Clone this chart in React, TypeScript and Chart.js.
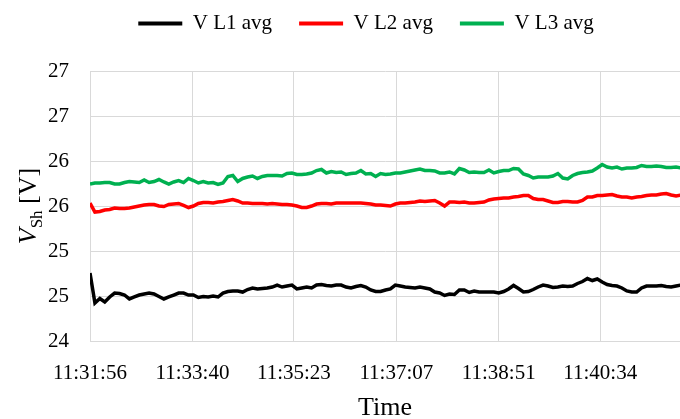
import React, { useEffect, useRef } from 'react';
import { Chart, registerables } from 'chart.js';

Chart.register(...registerables);

const FONT_FAMILY = '"Liberation Serif", "Times New Roman", serif';

const seriesNames = ['V L1 avg', 'V L2 avg', 'V L3 avg'];
const seriesColors = ['#000000', '#ff0000', '#00b050'];

const xTickLabels = ['11:31:56', '11:33:40', '11:35:23', '11:37:07', '11:38:51', '11:40:34'];
const xTitle = 'Time';
const xMaxSeconds = 599;
const sampleStepSeconds = 5;

const yTickLabels = ['24', '25', '25', '26', '26', '27', '27'];
const yMin = 24;
const yMax = 27;
const yStep = 0.5;
const yTitleMain = 'V';
const yTitleSub = 'Sh';
const yTitleUnit = ' [V]';

const vL1 = [
  24.756, 24.422, 24.472, 24.433, 24.489, 24.533, 24.528, 24.511, 24.467, 24.489,
  24.511, 24.522, 24.533, 24.522, 24.494, 24.467, 24.489, 24.511, 24.533, 24.533,
  24.511, 24.511, 24.483, 24.494, 24.489, 24.5, 24.489, 24.533, 24.55, 24.556,
  24.556, 24.544, 24.572, 24.589, 24.578, 24.583, 24.589, 24.6, 24.622, 24.6,
  24.611, 24.622, 24.578, 24.589, 24.6, 24.589, 24.622, 24.628, 24.617, 24.611,
  24.622, 24.622, 24.6, 24.589, 24.606, 24.617, 24.6, 24.567, 24.55, 24.55,
  24.567, 24.578, 24.622, 24.611, 24.6, 24.594, 24.589, 24.6, 24.589, 24.578,
  24.544, 24.533, 24.506, 24.522, 24.517, 24.567, 24.567, 24.539, 24.556, 24.544,
  24.544, 24.544, 24.544, 24.533, 24.55, 24.578, 24.617, 24.583, 24.544, 24.55,
  24.572, 24.6, 24.622, 24.611, 24.594, 24.6, 24.611, 24.606, 24.611, 24.639,
  24.661, 24.694, 24.672, 24.689, 24.656, 24.628, 24.617, 24.611, 24.589, 24.556,
  24.544, 24.544, 24.589, 24.611, 24.611, 24.611, 24.617, 24.606, 24.6, 24.611,
  24.622,
];

const vL2 = [
  25.533, 25.433, 25.439, 25.456, 25.461, 25.478, 25.472, 25.472, 25.478, 25.489,
  25.5, 25.511, 25.517, 25.517, 25.5, 25.494, 25.517, 25.522, 25.528, 25.506,
  25.483, 25.5, 25.528, 25.539, 25.539, 25.533, 25.544, 25.55, 25.561, 25.572,
  25.556, 25.533, 25.533, 25.528, 25.528, 25.528, 25.522, 25.528, 25.522, 25.517,
  25.517, 25.511, 25.5, 25.483, 25.483, 25.5, 25.522, 25.528, 25.528, 25.522,
  25.533, 25.533, 25.533, 25.533, 25.533, 25.533, 25.528, 25.522, 25.511, 25.511,
  25.506, 25.5, 25.522, 25.533, 25.533, 25.539, 25.544, 25.556, 25.55, 25.556,
  25.561, 25.533, 25.5, 25.544, 25.544, 25.539, 25.544, 25.533, 25.533, 25.539,
  25.544, 25.567, 25.578, 25.583, 25.589, 25.589, 25.6, 25.606, 25.617, 25.617,
  25.583, 25.572, 25.572, 25.556, 25.539, 25.539, 25.55, 25.55, 25.544, 25.544,
  25.561, 25.6, 25.6, 25.617, 25.617, 25.622, 25.628, 25.611, 25.6, 25.6,
  25.589, 25.6, 25.606, 25.617, 25.622, 25.622, 25.633, 25.639, 25.622, 25.611,
  25.622,
];

const vL3 = [
  25.744, 25.756, 25.756, 25.761, 25.761, 25.744, 25.744, 25.761, 25.772, 25.767,
  25.761, 25.789, 25.761, 25.772, 25.794, 25.767, 25.744, 25.767, 25.783, 25.761,
  25.806, 25.783, 25.756, 25.772, 25.756, 25.761, 25.739, 25.756, 25.828, 25.839,
  25.772, 25.806, 25.822, 25.833, 25.806, 25.828, 25.839, 25.839, 25.839, 25.833,
  25.861, 25.867, 25.85, 25.85, 25.856, 25.867, 25.894, 25.906, 25.867, 25.883,
  25.872, 25.878, 25.85, 25.861, 25.867, 25.894, 25.856, 25.861, 25.828, 25.861,
  25.85, 25.856, 25.867, 25.867, 25.878, 25.889, 25.9, 25.911, 25.894, 25.894,
  25.889, 25.867, 25.867, 25.878, 25.856, 25.917, 25.9, 25.872, 25.878, 25.872,
  25.872, 25.9, 25.867, 25.883, 25.894, 25.894, 25.917, 25.911, 25.856, 25.839,
  25.811, 25.822, 25.822, 25.822, 25.833, 25.861, 25.811, 25.8, 25.839, 25.861,
  25.872, 25.878, 25.889, 25.922, 25.961, 25.933, 25.922, 25.933, 25.911, 25.922,
  25.922, 25.928, 25.95, 25.939, 25.939, 25.944, 25.939, 25.928, 25.928, 25.933,
  25.922,
];

const seriesValues = [vL1, vL2, vL3];

function toSeconds(label: string): number {
  const [h, m, s] = label.split(':').map(Number);
  return h * 3600 + m * 60 + s;
}
const xTickSeconds = xTickLabels.map((l) => toSeconds(l) - toSeconds(xTickLabels[0]));

const legendPlugin = {
  id: 'legendTweak',
  beforeUpdate(chart: any) {
    const lg = chart.legend;
    if (lg && !lg.__patched) {
      const orig = lg.fit;
      lg.fit = function () {
        orig.call(this);
        this.height = 71;
      };
      lg.__patched = true;
    }
  },
  beforeDraw(chart: any) {
    const lg = chart.legend;
    if (lg) {
      lg.top = -14;
      lg.left = 26;
      lg.right = chart.width + 26;
    }
  },
};

const yTitlePlugin = {
  id: 'yTitleSub',
  afterDraw(chart: any) {
    const { ctx, chartArea } = chart;
    const cy = (chartArea.top + chartArea.bottom) / 2;
    const parts = [
      { t: yTitleMain, f: `italic 26px ${FONT_FAMILY}`, dy: 0 },
      { t: yTitleSub, f: `17px ${FONT_FAMILY}`, dy: 6 },
      { t: yTitleUnit, f: `26px ${FONT_FAMILY}`, dy: 0 },
    ];
    ctx.save();
    ctx.translate(27, cy);
    ctx.rotate(-Math.PI / 2);
    ctx.fillStyle = '#000000';
    ctx.textBaseline = 'alphabetic';
    ctx.textAlign = 'left';
    let total = 0;
    const widths = parts.map((p) => {
      ctx.font = p.f;
      const w = ctx.measureText(p.t).width;
      total += w;
      return w;
    });
    let x = -total / 2;
    parts.forEach((p, i) => {
      ctx.font = p.f;
      ctx.fillText(p.t, x, 9 + p.dy);
      x += widths[i];
    });
    ctx.restore();
  },
};

export default function App() {
  const canvasRef = useRef<HTMLCanvasElement | null>(null);

  useEffect(() => {
    if (!canvasRef.current) return;
    const datasets = seriesNames.map((name, i) => ({
      label: name,
      data: seriesValues[i].map((v, k) => ({ x: k * sampleStepSeconds, y: v })),
      borderColor: seriesColors[i],
      backgroundColor: seriesColors[i],
      borderWidth: 3.5,
      pointRadius: 0,
      tension: 0,
      fill: false,
    }));

    const chart = new Chart(canvasRef.current, {
      type: 'line',
      data: { datasets },
      plugins: [legendPlugin, yTitlePlugin],
      options: {
        animation: false,
        responsive: true,
        maintainAspectRatio: false,
        devicePixelRatio: 1,
        layout: { padding: { left: 0, right: 0, top: 0, bottom: 0 } },
        plugins: {
          tooltip: { enabled: false },
          legend: {
            display: true,
            position: 'top',
            labels: {
              font: { family: FONT_FAMILY, size: 21 },
              color: '#000000',
              boxWidth: 44,
              boxHeight: 4,
              padding: 27,
              generateLabels: (chart: any) =>
                Chart.defaults.plugins.legend.labels.generateLabels(chart).map((l: any) => ({
                  ...l,
                  lineWidth: 0,
                  fillStyle: l.strokeStyle,
                })),
            },
          },
        },
        scales: {
          x: {
            type: 'linear',
            min: 0,
            max: xMaxSeconds,
            afterBuildTicks: (scale: any) => {
              scale.ticks = xTickSeconds.map((v) => ({ value: v }));
            },
            afterFit: (scale: any) => {
              scale.height = 78;
            },
            ticks: {
              autoSkip: false,
              maxRotation: 0,
              padding: 20,
              color: '#000000',
              font: { family: FONT_FAMILY, size: 21 },
              callback: (_v: any, i: number) => xTickLabels[i],
            },
            grid: { color: '#d9d9d9', lineWidth: 1, drawTicks: false },
            border: { display: true, color: '#d9d9d9' },
            title: {
              display: true,
              text: xTitle,
              color: '#000000',
              font: { family: FONT_FAMILY, size: 26, lineHeight: 1 },
              padding: { top: 0, bottom: -2 },
            },
          },
          y: {
            type: 'linear',
            min: yMin,
            max: yMax,
            afterFit: (scale: any) => {
              scale.width = 90;
            },
            ticks: {
              stepSize: yStep,
              padding: 21,
              color: '#000000',
              font: { family: FONT_FAMILY, size: 21 },
              callback: (_v: any, i: number) => yTickLabels[i],
            },
            grid: { color: '#d9d9d9', lineWidth: 1, drawTicks: false },
            border: { display: true, color: '#d9d9d9' },
          },
        },
      } as any,
    });
    return () => chart.destroy();
  }, []);

  return (
    <div style={{ position: 'fixed', left: 0, top: 0, width: 680, height: 419, background: '#ffffff' }}>
      <canvas ref={canvasRef} />
    </div>
  );
}
